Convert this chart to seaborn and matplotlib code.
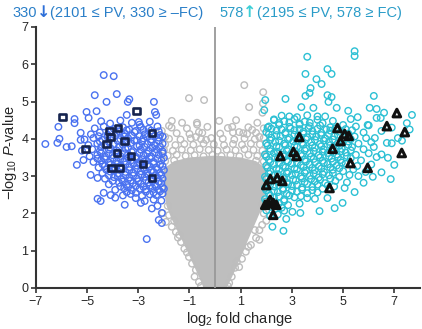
import matplotlib
matplotlib.use("Agg")
import pandas as pd
import matplotlib.pyplot as plt
import seaborn as sns

# ---- data (log2 fold change, -log10 P) ----
down_points = [
    (-4.35, 5.71), (-3.96, 5.68), (-4.70, 5.17), (-3.84, 5.20), (-4.24, 4.99), (-4.63, 4.74),
    (-3.41, 4.99), (-3.35, 5.06), (-2.39, 4.99), (-2.35, 4.72), (-2.30, 4.64), (-2.98, 4.45),
    (-3.45, 4.64), (-5.02, 4.72), (-4.94, 4.56), (-5.49, 4.53), (-5.49, 4.42), (-6.12, 4.32),
    (-6.08, 4.00), (-6.16, 3.89), (-6.63, 3.86), (-5.80, 3.78), (-5.60, 3.80), (-5.25, 3.97),
    (-5.25, 4.16), (-5.14, 3.43), (-5.40, 3.30), (-4.86, 3.03), (-4.59, 2.95), (-4.59, 2.39),
    (-4.47, 2.33), (-4.35, 2.55), (-4.08, 2.49), (-3.90, 2.42), (-3.53, 2.23), (-3.10, 2.41),
    (-2.90, 2.28), (-2.67, 1.31), (-2.20, 1.82), (-2.08, 1.74), (-2.08, 2.01), (-2.47, 2.13),
    (-2.25, 2.20),
    (-4.45, 4.47), (-4.10, 4.41), (-3.70, 4.49), (-3.25, 4.43), (-2.95, 4.38), (-2.55, 4.46),
    (-4.70, 4.28), (-4.35, 4.33), (-3.95, 4.26), (-3.60, 4.31), (-3.35, 4.25), (-2.90, 4.32),
    (-2.60, 4.27), (-2.25, 4.33),
    (-4.85, 4.12), (-4.50, 4.17), (-4.20, 4.11), (-3.85, 4.16), (-3.50, 4.13), (-3.15, 4.18),
    (-2.75, 4.12), (-2.45, 4.15), (-2.15, 4.10),
    (-5.10, 3.98), (-4.75, 4.02), (-4.40, 3.97), (-4.05, 4.03), (-3.70, 3.99), (-3.40, 4.02),
    (-3.05, 3.96), (-2.80, 4.01), (-2.50, 3.98), (-2.20, 4.03),
    (-4.95, 3.83), (-4.60, 3.87), (-4.30, 3.82), (-3.95, 3.86), (-3.60, 3.84), (-3.30, 3.88),
    (-2.95, 3.82), (-2.65, 3.86), (-2.35, 3.83), (-2.05, 3.87),
    (-5.20, 3.68), (-4.80, 3.72), (-4.50, 3.67), (-4.15, 3.71), (-3.85, 3.69), (-3.50, 3.73),
    (-3.20, 3.67), (-2.90, 3.71), (-2.60, 3.68), (-2.30, 3.72), (-2.05, 3.66),
    (-4.90, 3.53), (-4.60, 3.57), (-4.30, 3.52), (-4.00, 3.56), (-3.70, 3.54), (-3.40, 3.58),
    (-3.10, 3.52), (-2.80, 3.56), (-2.50, 3.53), (-2.20, 3.57),
    (-4.75, 3.38), (-4.45, 3.42), (-4.15, 3.37), (-3.85, 3.41), (-3.55, 3.39), (-3.25, 3.43),
    (-2.95, 3.37), (-2.70, 3.41), (-2.40, 3.38), (-2.10, 3.42),
    (-4.55, 3.23), (-4.30, 3.27), (-3.95, 3.22), (-3.65, 3.26), (-3.35, 3.24), (-3.05, 3.28),
    (-2.80, 3.22), (-2.55, 3.26), (-2.30, 3.23), (-2.05, 3.27),
    (-4.40, 3.08), (-4.10, 3.12), (-3.80, 3.07), (-3.50, 3.11), (-3.20, 3.09), (-2.90, 3.13),
    (-2.65, 3.07), (-2.40, 3.11), (-2.15, 3.08),
    (-4.30, 2.93), (-3.95, 2.97), (-3.65, 2.92), (-3.35, 2.96), (-3.05, 2.94), (-2.75, 2.98),
    (-2.50, 2.92), (-2.25, 2.96), (-2.05, 2.93),
    (-4.15, 2.78), (-3.75, 2.82), (-3.45, 2.77), (-3.20, 2.81), (-2.90, 2.79), (-2.60, 2.83),
    (-2.35, 2.77), (-2.10, 2.81),
    (-3.90, 2.63), (-3.55, 2.67), (-3.25, 2.62), (-2.95, 2.66), (-2.70, 2.64), (-2.45, 2.68),
    (-2.20, 2.62), (-2.00, 2.66),
    (-3.60, 2.48), (-3.30, 2.52), (-2.85, 2.47), (-2.55, 2.51), (-2.30, 2.49), (-2.05, 2.53),
    (-2.75, 2.33), (-2.40, 2.37), (-2.10, 2.34),
    (-4.05, 4.22), (-3.75, 4.20), (-3.45, 4.23), (-3.10, 4.21), (-2.80, 4.24), (-2.50, 4.22),
    (-2.20, 4.20),
    (-4.55, 4.07), (-4.20, 4.05), (-3.90, 4.08), (-3.55, 4.06), (-3.25, 4.09), (-2.95, 4.07),
    (-2.65, 4.05), (-2.35, 4.08), (-2.05, 4.06),
    (-4.50, 3.93), (-4.15, 3.91), (-3.80, 3.94), (-3.45, 3.92), (-3.15, 3.95), (-2.85, 3.93),
    (-2.50, 3.91), (-2.20, 3.94),
    (-4.45, 3.78), (-4.10, 3.76), (-3.75, 3.79), (-3.40, 3.77), (-3.05, 3.80), (-2.75, 3.78),
    (-2.45, 3.76), (-2.15, 3.79),
    (-4.45, 3.62), (-4.15, 3.60), (-3.85, 3.63), (-3.55, 3.61), (-3.25, 3.64), (-2.95, 3.62),
    (-2.65, 3.60), (-2.35, 3.63), (-2.05, 3.61),
    (-4.60, 3.47), (-4.30, 3.45), (-4.00, 3.48), (-3.70, 3.46), (-3.40, 3.49), (-3.10, 3.47),
    (-2.85, 3.45), (-2.55, 3.48), (-2.25, 3.46), (-2.00, 3.49),
    (-4.40, 3.32), (-4.10, 3.30), (-3.80, 3.33), (-3.50, 3.31), (-3.20, 3.34), (-2.95, 3.32),
    (-2.65, 3.30), (-2.40, 3.33), (-2.15, 3.31),
    (-4.25, 3.17), (-3.95, 3.15), (-3.65, 3.18), (-3.35, 3.16), (-3.05, 3.19), (-2.75, 3.17),
    (-2.50, 3.15), (-2.25, 3.18), (-2.00, 3.16),
    (-4.15, 3.02), (-3.80, 3.00), (-3.50, 3.03), (-3.20, 3.01), (-2.90, 3.04), (-2.60, 3.02),
    (-2.35, 3.00), (-2.10, 3.03),
    (-4.00, 2.87), (-3.60, 2.85), (-3.30, 2.88), (-3.00, 2.86), (-2.70, 2.89), (-2.45, 2.87),
    (-2.20, 2.85),
    (-3.70, 2.72), (-3.40, 2.70), (-3.10, 2.73), (-2.80, 2.71), (-2.55, 2.74), (-2.30, 2.72),
    (-2.05, 2.70),
    (-3.45, 2.57), (-3.10, 2.55), (-2.70, 2.58), (-2.40, 2.56), (-2.15, 2.59),
]

down_marked = [
    (-5.96, 4.58), (-3.06, 4.74), (-3.80, 4.29), (-4.12, 4.21), (-4.08, 4.05), (-2.47, 4.16),
    (-3.53, 3.94), (-4.24, 3.86), (-3.84, 3.62), (-3.29, 3.54), (-2.82, 3.32), (-4.04, 3.22),
    (-3.73, 3.22), (-2.47, 2.95), (-5.06, 3.73),
]

up_points = [
    (5.45, 6.35), (5.45, 6.22), (3.60, 6.20), (4.39, 5.87), (4.55, 5.74), (3.53, 5.74),
    (3.96, 5.60), (4.16, 5.47), (3.73, 5.36), (3.69, 5.23), (3.53, 5.15), (4.39, 5.17),
    (4.55, 5.12), (4.43, 4.99), (6.20, 5.15), (2.75, 5.07), (1.96, 5.04), (1.92, 4.77),
    (3.37, 4.85), (4.75, 4.83), (6.04, 4.83), (6.31, 4.80), (7.69, 4.64), (7.49, 4.42),
    (7.14, 4.02), (6.71, 3.89), (6.75, 3.49), (6.31, 3.51), (6.24, 4.02), (6.31, 4.56),
    (5.96, 4.37), (5.57, 4.58), (2.67, 1.53), (3.33, 2.01), (3.60, 2.41), (4.08, 2.06),
    (4.67, 2.14), (4.98, 2.28), (5.45, 2.57), (5.80, 2.82), (6.16, 2.98), (6.86, 2.92),
    (4.39, 2.41), (5.06, 2.68), (3.02, 2.04), (2.78, 1.85), (2.24, 1.64), (7.30, 3.95),
    (7.00, 3.30), (6.50, 3.10), (5.60, 3.00), (7.60, 4.25), (6.90, 4.30), (6.60, 4.70),
    (5.20, 4.75), (2.90, 4.60), (2.30, 4.50), (2.05, 4.30), (3.84, 4.83), (4.00, 4.60),
    (6.20, 3.78), (5.88, 3.11), (6.47, 4.56),
    (2.30, 4.52), (2.70, 4.47), (3.10, 4.53), (3.50, 4.46), (4.00, 4.51), (4.60, 4.48), (5.30, 4.53),
    (2.10, 4.33), (2.50, 4.37), (2.90, 4.32), (3.30, 4.38), (3.70, 4.34), (4.10, 4.36),
    (4.50, 4.31), (5.00, 4.37), (5.50, 4.33), (6.00, 4.36),
    (2.00, 4.18), (2.40, 4.22), (2.75, 4.17), (3.10, 4.23), (3.45, 4.19), (3.80, 4.21),
    (4.15, 4.16), (4.50, 4.22), (4.90, 4.18), (5.35, 4.23), (5.80, 4.17), (6.50, 4.21),
    (2.20, 4.03), (2.55, 4.07), (2.90, 4.02), (3.25, 4.08), (3.60, 4.04), (3.95, 4.06),
    (4.30, 4.01), (4.65, 4.07), (5.00, 4.03), (5.45, 4.06), (5.90, 4.02),
    (2.00, 3.88), (2.35, 3.92), (2.70, 3.87), (3.05, 3.93), (3.40, 3.89), (3.75, 3.91),
    (4.10, 3.86), (4.45, 3.92), (4.80, 3.88), (5.20, 3.93), (5.60, 3.87), (6.10, 3.91), (6.90, 3.88),
    (2.15, 3.73), (2.50, 3.77), (2.85, 3.72), (3.20, 3.78), (3.55, 3.74), (3.90, 3.76),
    (4.25, 3.71), (4.60, 3.77), (4.95, 3.73), (5.35, 3.78), (5.80, 3.72),
    (1.95, 3.58), (2.30, 3.62), (2.65, 3.57), (3.00, 3.63), (3.35, 3.59), (3.70, 3.61),
    (4.05, 3.56), (4.40, 3.62), (4.75, 3.58), (5.10, 3.63), (5.50, 3.57), (6.00, 3.61), (6.50, 3.58),
    (2.10, 3.43), (2.45, 3.47), (2.80, 3.42), (3.15, 3.48), (3.50, 3.44), (3.85, 3.46),
    (4.20, 3.41), (4.55, 3.47), (4.90, 3.43), (5.30, 3.48), (5.70, 3.42),
    (2.00, 3.28), (2.30, 3.32), (2.65, 3.27), (3.00, 3.33), (3.35, 3.29), (3.70, 3.31),
    (4.05, 3.26), (4.40, 3.32), (4.75, 3.28), (5.10, 3.33), (5.55, 3.27), (6.10, 3.31),
    (2.15, 3.13), (2.50, 3.17), (2.85, 3.12), (3.20, 3.18), (3.55, 3.14), (3.90, 3.16),
    (4.25, 3.11), (4.60, 3.17), (5.00, 3.13), (5.40, 3.18),
    (1.95, 2.98), (2.30, 3.02), (2.65, 2.97), (3.00, 3.03), (3.35, 2.99), (3.70, 3.01),
    (4.05, 2.96), (4.45, 3.02), (4.85, 2.98), (5.25, 3.03),
    (2.10, 2.83), (2.45, 2.87), (2.80, 2.82), (3.15, 2.88), (3.50, 2.84), (3.90, 2.86),
    (4.30, 2.81), (4.70, 2.87), (5.15, 2.83),
    (1.95, 2.68), (2.30, 2.72), (2.65, 2.67), (3.00, 2.73), (3.40, 2.69), (3.80, 2.71),
    (4.20, 2.66), (4.65, 2.72),
    (2.10, 2.53), (2.45, 2.57), (2.80, 2.52), (3.20, 2.58), (3.60, 2.54), (4.00, 2.56),
    (1.95, 2.38), (2.30, 2.42), (2.70, 2.37), (3.10, 2.43), (3.90, 2.39),
    (2.10, 2.23), (2.50, 2.27), (2.85, 2.22), (3.30, 2.26),
    (2.00, 2.08), (2.35, 2.12), (2.70, 2.07),
    (2.15, 1.93), (2.45, 1.97),
    (2.60, 4.62), (3.20, 4.58), (3.60, 4.63), (4.30, 4.60),
    (2.50, 4.42), (2.90, 4.44), (3.30, 4.41), (3.70, 4.43), (4.20, 4.42),
    (2.20, 4.27), (2.60, 4.25), (2.95, 4.28), (3.30, 4.26), (3.65, 4.29), (4.00, 4.27),
    (4.35, 4.25), (4.70, 4.28), (5.10, 4.26),
    (2.10, 4.12), (2.40, 4.10), (2.75, 4.13), (3.10, 4.11), (3.45, 4.14), (3.80, 4.12),
    (4.15, 4.10), (4.45, 4.13), (4.80, 4.11), (5.20, 4.14),
    (2.15, 3.97), (2.50, 3.95), (2.85, 3.98), (3.20, 3.96), (3.55, 3.99), (3.90, 3.97),
    (4.25, 3.95), (4.60, 3.98), (4.95, 3.96), (5.30, 3.99),
    (2.05, 3.82), (2.40, 3.80), (2.75, 3.83), (3.10, 3.81), (3.45, 3.84), (3.80, 3.82),
    (4.15, 3.80), (4.50, 3.83), (4.85, 3.81), (5.20, 3.84),
    (2.15, 3.67), (2.45, 3.65), (2.80, 3.68), (3.15, 3.66), (3.50, 3.69), (3.85, 3.67),
    (4.20, 3.65), (4.55, 3.68), (4.90, 3.66), (5.30, 3.69),
    (2.00, 3.52), (2.35, 3.50), (2.70, 3.53), (3.05, 3.51), (3.40, 3.54), (3.75, 3.52),
    (4.10, 3.50), (4.45, 3.53), (4.80, 3.51), (5.15, 3.54),
    (2.15, 3.37), (2.50, 3.35), (2.85, 3.38), (3.20, 3.36), (3.55, 3.39), (3.90, 3.37),
    (4.25, 3.35), (4.60, 3.38), (4.95, 3.36),
    (2.05, 3.22), (2.40, 3.20), (2.75, 3.23), (3.10, 3.21), (3.45, 3.24), (3.80, 3.22),
    (4.15, 3.20), (4.50, 3.23), (4.85, 3.21),
    (2.10, 3.07), (2.45, 3.05), (2.80, 3.08), (3.15, 3.06), (3.50, 3.09), (3.85, 3.07),
    (4.20, 3.05), (4.60, 3.08),
    (2.00, 2.92), (2.35, 2.90), (2.70, 2.93), (3.05, 2.91), (3.40, 2.94), (3.75, 2.92),
    (4.10, 2.90), (4.50, 2.93),
    (2.15, 2.77), (2.50, 2.75), (2.85, 2.78), (3.20, 2.76), (3.60, 2.79), (4.00, 2.77),
    (4.40, 2.75),
    (2.00, 2.62), (2.30, 2.60), (2.65, 2.63), (3.00, 2.61), (3.40, 2.64), (3.80, 2.62),
    (2.15, 2.47), (2.50, 2.45), (2.90, 2.48), (3.35, 2.46),
    (2.00, 2.32), (2.35, 2.30), (2.70, 2.33),
    (2.20, 2.17), (2.60, 2.15),
]

up_marked = [
    (7.10, 4.69), (4.78, 4.29), (6.71, 4.34), (7.41, 4.18), (3.29, 4.05), (5.06, 4.13),
    (5.22, 4.08), (4.90, 3.94), (4.59, 3.73), (7.29, 3.62), (2.55, 3.54), (3.06, 3.65),
    (3.18, 3.54), (5.29, 3.35), (5.96, 3.22), (4.47, 2.68), (2.16, 2.92), (2.43, 2.95),
    (2.63, 2.87), (2.00, 2.76), (2.08, 2.28), (2.27, 2.28), (1.96, 2.23), (2.39, 2.23),
    (2.27, 1.96), (2.15, 2.36),
]

ns_points = [
    (-1.02, 5.09), (-0.43, 5.04), (-1.69, 4.48), (-1.29, 4.43), (-0.71, 4.43), (-0.70, 4.38),
    (-2.08, 4.21), (-0.63, 4.18), (-0.75, 4.05), (-0.35, 3.97), (1.14, 5.44), (1.88, 5.25),
    (1.33, 4.85), (0.16, 4.48), (0.82, 4.50), (0.67, 4.32), (0.94, 4.18), (1.10, 4.15),
    (1.45, 4.24), (1.65, 4.43), (1.73, 4.05), (1.85, 4.70), (1.87, 4.95), (-1.95, 4.05),
    (-1.80, 4.35),
    (-1.70, 4.30), (-1.10, 4.28), (-0.30, 4.32), (0.50, 4.29), (1.30, 4.31), (1.90, 4.28),
    (-1.50, 4.15), (-1.00, 4.13), (-0.50, 4.16), (0.20, 4.14), (0.70, 4.17), (1.25, 4.13), (1.60, 4.16),
    (-1.80, 4.00), (-1.35, 3.98), (-0.95, 4.01), (-0.55, 3.99), (-0.15, 4.02), (0.30, 4.00),
    (0.75, 3.98), (1.15, 4.01), (1.55, 3.99), (1.90, 4.02),
    (-1.95, 3.85), (-1.55, 3.83), (-1.20, 3.86), (-0.85, 3.84), (-0.45, 3.87), (-0.05, 3.85),
    (0.35, 3.83), (0.70, 3.86), (1.05, 3.84), (1.40, 3.87), (1.75, 3.85),
    (-2.00, 3.70), (-1.65, 3.68), (-1.30, 3.71), (-0.95, 3.69), (-0.60, 3.72), (-0.25, 3.70),
    (0.10, 3.68), (0.45, 3.71), (0.80, 3.69), (1.15, 3.72), (1.50, 3.70), (1.85, 3.68),
    (-1.85, 3.55), (-1.50, 3.57), (-1.15, 3.54), (-0.80, 3.56), (-0.45, 3.53), (-0.10, 3.57),
    (0.25, 3.54), (0.60, 3.56), (0.95, 3.53), (1.30, 3.57), (1.65, 3.54), (1.95, 3.56),
    (-1.95, 3.40), (-1.60, 3.42), (1.60, 3.41), (1.90, 3.39),
    (-2.05, 2.00), (-1.92, 1.77), (-1.69, 1.64), (-1.53, 1.50), (-1.45, 1.35), (-1.33, 1.23),
    (-1.20, 1.05), (-1.02, 0.83), (-0.90, 0.65), (-0.75, 0.48), (-0.63, 0.16), (-0.55, 0.05),
    (-1.80, 1.95), (-1.40, 1.42), (-1.10, 0.95), (-1.85, 2.20), (-1.60, 1.80), (-0.80, 0.30),
    (2.00, 1.80), (1.84, 1.69), (1.73, 1.55), (1.73, 1.29), (1.60, 1.34), (1.40, 1.15),
    (1.20, 0.97), (1.05, 0.78), (0.94, 0.56), (0.78, 0.54), (0.65, 0.30), (0.55, 0.13),
    (0.50, 0.05), (1.90, 2.00), (1.55, 1.55), (1.85, 2.25), (1.30, 1.10), (0.85, 0.70),
]

core_x = [-0.45, -0.60, -0.80, -1.00, -1.20, -1.45, -1.70, -1.90, -2.00, -2.00, -1.60, -1.00,
          0.00, 1.00, 1.60, 2.00, 1.95, 1.80, 1.55, 1.30, 1.05, 0.80, 0.60, 0.45]
core_y = [0.00, 0.25, 0.55, 0.85, 1.15, 1.50, 1.85, 2.20, 2.60, 3.20, 3.40, 3.50,
          3.55, 3.50, 3.40, 3.20, 2.50, 2.10, 1.70, 1.30, 0.90, 0.50, 0.20, 0.00]

x_ticks = [-7, -5, -3, -1, 1, 3, 5, 7]
y_ticks = [0, 1, 2, 3, 4, 5, 6, 7]

left_title = ["330", "\u2193", "(2101 \u2264 PV, 330 \u2265 \u2013FC)"]
right_title = ["578", "\u2191", "(2195 \u2264 PV, 578 \u2265 FC)"]


def to_df(points):
    return pd.DataFrame(points, columns=["log2fc", "nlogp"])


sns.set_style("ticks")
plt.rcParams["font.family"] = ["Liberation Sans", "DejaVu Sans"]
plt.rcParams["mathtext.fontset"] = "custom"
plt.rcParams["mathtext.rm"] = "Liberation Sans"
plt.rcParams["mathtext.it"] = "Liberation Sans:italic"

fig = plt.figure(figsize=(4.22, 3.29), dpi=100)
ax = fig.add_axes([0.085, 0.125, 0.91, 0.793])

# grey non-significant cloud
ax.fill(core_x, core_y, color="#bebebe", lw=0, zorder=1)
circ = dict(marker="o", s=22, facecolor="none", linewidth=1.0, legend=False)
sns.scatterplot(data=to_df(ns_points), x="log2fc", y="nlogp", ax=ax,
                edgecolor="#bdbdbd", zorder=2, **circ)
ax.axvline(0, color="#999999", lw=1.3, zorder=3)

sns.scatterplot(data=to_df(down_points), x="log2fc", y="nlogp", ax=ax,
                edgecolor="#4a72f0", zorder=4, **circ)
sns.scatterplot(data=to_df(up_points), x="log2fc", y="nlogp", ax=ax,
                edgecolor="#2cc0d4", zorder=4, **circ)

sns.scatterplot(data=to_df(down_marked), x="log2fc", y="nlogp", ax=ax, marker="s", s=22,
                facecolor="none", edgecolor="#16244f", linewidth=1.9, zorder=5, legend=False)
sns.scatterplot(data=to_df(up_marked), x="log2fc", y="nlogp", ax=ax, marker="^", s=30,
                facecolor="none", edgecolor="#111111", linewidth=2.2, zorder=5, legend=False)

ax.set_xlim(-7, 8)
ax.set_ylim(0, 7)
ax.set_xticks(x_ticks)
ax.set_yticks(y_ticks)
ax.tick_params(labelsize=9, length=3.5, width=1.2, pad=2, color="#333333")
sns.despine(ax=ax)
for side in ["left", "bottom"]:
    ax.spines[side].set_linewidth(1.5)
    ax.spines[side].set_color("#333333")

ax.set_xlabel("log$_2$ fold change", fontsize=10.5)
ax.set_ylabel("\u2212log$_{10}$ $P$-value", fontsize=10.5)
ax.xaxis.set_label_coords(0.53, -0.085)
ax.yaxis.set_label_coords(-0.045, 0.52)


def colored_title(parts, x_px, colors, arrow_color):
    prev = ax.annotate(parts[0], xy=(x_px, 329 - 20), xycoords="figure pixels",
                       va="bottom", ha="left", fontsize=10.5, color=colors,
                       annotation_clip=False)
    prev = ax.annotate(parts[1], xy=(1, 0.02), xycoords=prev, va="bottom", ha="left",
                       fontsize=11.5, fontweight="bold", family="DejaVu Sans",
                       color=arrow_color, annotation_clip=False)
    ax.annotate(parts[2], xy=(1, -0.02), xycoords=prev, va="bottom", ha="left",
                fontsize=10.5, color=colors, annotation_clip=False)


colored_title(left_title, 12, "#2a7fc8", "#2d6fd8")
colored_title(right_title, 219, "#2a9cc8", "#3ccfd6")

fig.savefig("out.png", dpi=100)
